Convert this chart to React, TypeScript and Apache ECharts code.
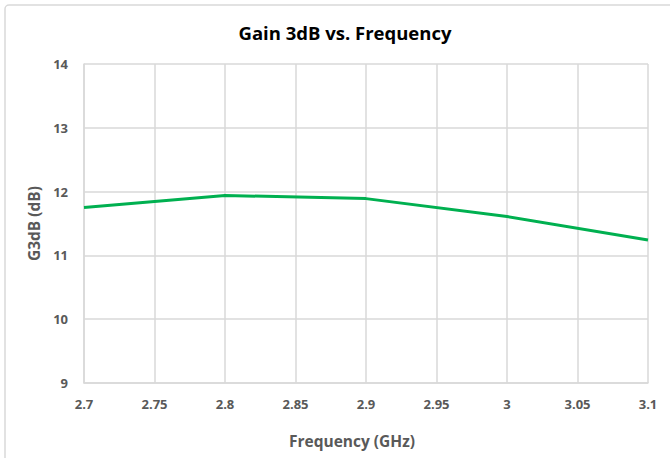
import React, { useEffect, useRef } from "react";
import * as echarts from "echarts";

const frequencies = [2.7, 2.8, 2.9, 3.0, 3.1];
const gain3dB = [11.75, 11.94, 11.89, 11.61, 11.24];
const titleText = "Gain 3dB vs. Frequency";
const xName = "Frequency (GHz)";
const yName = "G3dB (dB)";

export default function App() {
  const ref = useRef<HTMLDivElement>(null);
  useEffect(() => {
    if (!ref.current) return;
    const chart = echarts.init(ref.current, undefined, { renderer: "svg" });
    const font = "'Open Sans', 'Noto Sans', sans-serif";
    chart.setOption({
      animation: false,
      backgroundColor: "#ffffff",
      title: {
        text: titleText,
        left: 340,
        top: 18,
        textAlign: "center",
        textStyle: { fontFamily: font, fontSize: 18.5, fontWeight: "bold", color: "#000000" },
      },
      graphic: [
        {
          type: "rect",
          shape: { x: 5, y: 5, width: 680, height: 470, r: 4 },
          style: { fill: "none", stroke: "#d9d9d9", lineWidth: 1.5 },
          silent: true,
        },
        {
          type: "text",
          x: 352,
          y: 441,
          style: {
            text: xName,
            fontFamily: font,
            fontSize: 15.5,
            fontWeight: "bold",
            fill: "#595959",
            align: "center",
            verticalAlign: "middle",
          },
        },
      ],
      grid: { left: 84, right: 22, top: 64, bottom: 75 },
      xAxis: {
        type: "value",
        min: 2.7,
        max: 3.1,
        interval: 0.05,
        axisLine: { show: true, lineStyle: { color: "#d9d9d9", width: 1.5 } },
        axisTick: { show: false },
        splitLine: { show: true, lineStyle: { color: "#d9d9d9", width: 1.5 } },
        axisLabel: {
          fontFamily: font,
          fontSize: 13,
          fontWeight: "bold",
          color: "#595959",
          margin: 14,
          formatter: (v: number) => String(Number(v.toFixed(2))),
        },
      },
      yAxis: {
        type: "value",
        min: 9,
        max: 14,
        interval: 1,
        name: yName,
        nameLocation: "middle",
        nameGap: 36,
        nameTextStyle: { fontFamily: font, fontSize: 15.5, fontWeight: "bold", color: "#595959" },
        axisLine: { show: true, lineStyle: { color: "#d9d9d9", width: 1.5 } },
        axisTick: { show: false },
        splitLine: { show: true, lineStyle: { color: "#d9d9d9", width: 1.5 } },
        axisLabel: {
          fontFamily: font,
          fontSize: 13,
          fontWeight: "bold",
          color: "#595959",
          margin: 16,
        },
      },
      series: [
        {
          type: "line",
          data: frequencies.map((f, i) => [f, gain3dB[i]]),
          showSymbol: false,
          lineStyle: { color: "#00b050", width: 3 },
          itemStyle: { color: "#00b050" },
        },
      ],
    });
    return () => chart.dispose();
  }, []);
  return (
    <div
      ref={ref}
      style={{ position: "fixed", left: 0, top: 0, width: 670, height: 458 }}
    />
  );
}
